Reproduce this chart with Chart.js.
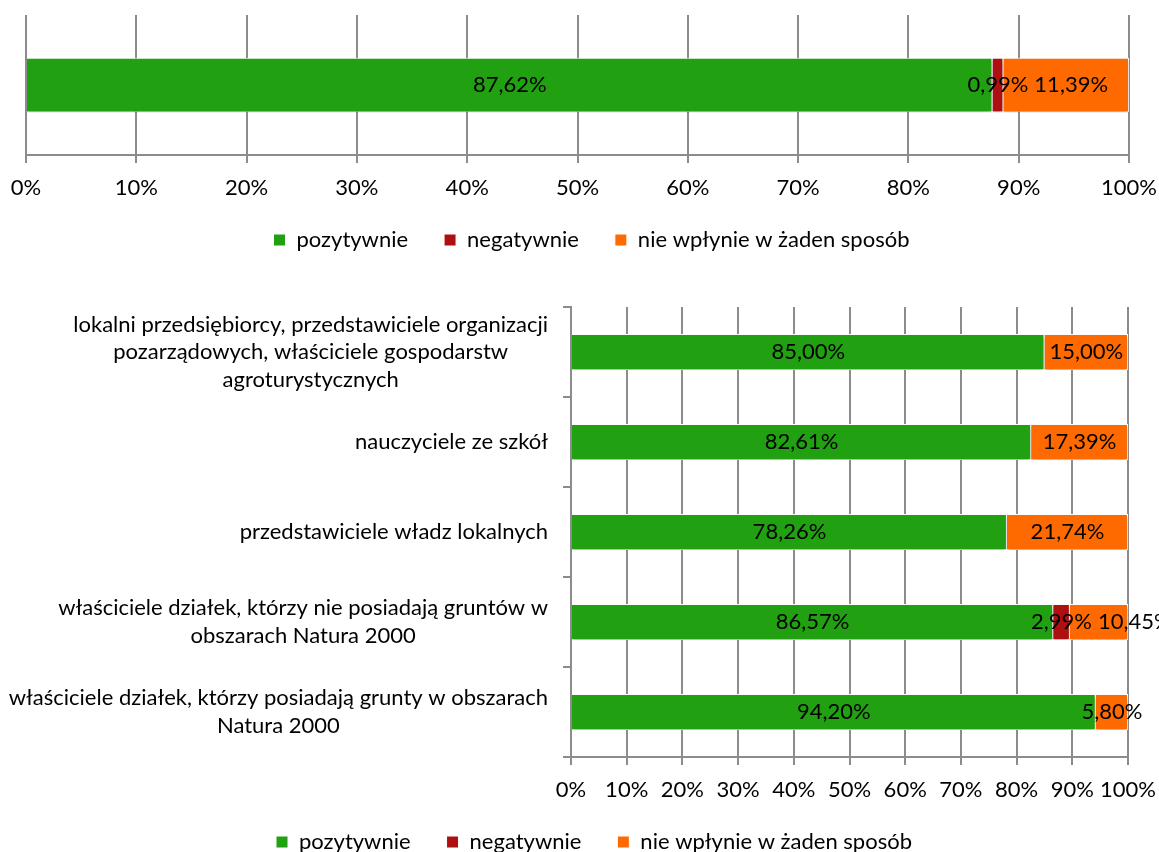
<!DOCTYPE html>
<html lang="pl">
<head>
<meta charset="utf-8">
<title>Wpływ na gminę</title>
<script src="https://cdn.jsdelivr.net/npm/chart.js@4.4.1/dist/chart.umd.min.js"></script>
<style>
  html, body { margin: 0; padding: 0; background: #fff; overflow: hidden; width: 1159px; height: 852px; }
  #topChart { position: absolute; left: 0; top: 0; }
  #bottomChart { position: absolute; left: 0; top: 280px; }
</style>
</head>
<body>
<canvas id="topChart" width="1159" height="290"></canvas>
<canvas id="bottomChart" width="1159" height="600"></canvas>
<script>
const seriesNames = ['pozytywnie', 'negatywnie', 'nie wpłynie w żaden sposób'];
const seriesColors = ['#21a011', '#ae0f10', '#ff6a00'];

// top chart - all respondents
const overallLabels = ['ogółem'];
const overallPositive = [87.62];
const overallNegative = [0.99];
const overallNone = [11.39];

// bottom chart - respondent groups
const groupLabels = [
  ['lokalni przedsiębiorcy, przedstawiciele organizacji', 'pozarządowych, właściciele gospodarstw', 'agroturystycznych'],
  'nauczyciele ze szkół',
  'przedstawiciele władz lokalnych',
  ['właściciele działek, którzy nie posiadają gruntów w', 'obszarach Natura 2000'],
  ['właściciele działek, którzy posiadają grunty w obszarach', 'Natura 2000']
];
const groupPositive = [85.00, 82.61, 78.26, 86.57, 94.20];
const groupNegative = [0, 0, 0, 2.99, 0];
const groupNone = [15.00, 17.39, 21.74, 10.45, 5.80];

const FONT = 'Lato';
const FONT_SIZE = 22;
const gridColor = '#8c8c8c';

Chart.defaults.font.family = FONT;
Chart.defaults.font.size = FONT_SIZE;
Chart.defaults.color = '#000';
Chart.defaults.animation = false;

const fmt = v => v.toFixed(2).replace('.', ',') + '%';

function makeSets(pos, neg, none, pct) {
  return [pos, neg, none].map((data, i) => ({
    label: seriesNames[i],
    data: data,
    backgroundColor: seriesColors[i],
    borderColor: '#fff',
    borderWidth: 1,
    barPercentage: pct,
    categoryPercentage: 1
  }));
}

// soft shadow under the bars + value labels centred in each segment
const barLabels = {
  id: 'barLabels',
  beforeDatasetsDraw(chart) {
    const ctx = chart.ctx;
    ctx.save();
    ctx.shadowColor = 'rgba(0,0,0,0.3)';
    ctx.shadowBlur = 4;
    ctx.shadowOffsetY = 3;
  },
  afterDatasetsDraw(chart) {
    const ctx = chart.ctx;
    ctx.restore();
    ctx.save();
    ctx.font = FONT_SIZE + 'px ' + FONT;
    ctx.fillStyle = '#000';
    ctx.textAlign = 'center';
    ctx.textBaseline = 'middle';
    chart.data.labels.forEach((_, j) => {
      let prevRight = -Infinity;
      chart.data.datasets.forEach((ds, i) => {
        const v = ds.data[j];
        if (!v) return;
        const bar = chart.getDatasetMeta(i).data[j];
        const text = fmt(v);
        const w = ctx.measureText(text).width;
        let cx = (bar.x + bar.base) / 2;
        // push a label right when it would run into the previous one
        if (cx - w / 2 < prevRight + 6) cx = prevRight + 6 + w / 2;
        ctx.fillText(text, cx, bar.y);
        prevRight = cx + w / 2;
      });
    });
    ctx.restore();
  }
};

// category labels: block right aligned to the axis, lines centred inside the block
const groupAxisLabels = {
  id: 'groupAxisLabels',
  afterDraw(chart) {
    const scale = chart.scales.y;
    const ctx = chart.ctx;
    const lineH = 27.5;
    const right = scale.right - 8 - 15;
    ctx.save();
    ctx.font = FONT_SIZE + 'px ' + FONT;
    ctx.fillStyle = '#000';
    ctx.textAlign = 'center';
    ctx.textBaseline = 'middle';
    groupLabels.forEach((label, i) => {
      const lines = [].concat(label);
      const w = Math.max(...lines.map(l => ctx.measureText(l).width));
      const cx = right - w / 2;
      const y0 = scale.getPixelForValue(i) - (lines.length - 1) * lineH / 2;
      lines.forEach((l, k) => ctx.fillText(l, cx, y0 + k * lineH));
    });
    ctx.restore();
  }
};

const legendMove = (dx, dy) => ({
  id: 'legendMove',
  afterLayout(chart) {
    chart.legend.left += dx;
    chart.legend.right += dx;
    chart.legend.top += dy;
    chart.legend.bottom += dy;
  }
});

const xScale = {
  stacked: true,
  min: 0,
  max: 100,
  ticks: { stepSize: 10, callback: v => v + '%', padding: 12, color: '#000', maxRotation: 0, minRotation: 0, autoSkip: false },
  grid: { color: gridColor, lineWidth: 2, tickLength: 8, tickColor: gridColor },
  border: { color: gridColor, width: 2 },
  afterFit: s => { s.height = 50; s.paddingLeft = 0; s.paddingRight = 0; }
};

const legendOpts = {
  position: 'bottom',
  labels: { boxWidth: 12, boxHeight: 12, padding: 36, color: '#000', font: { size: FONT_SIZE } }
};

new Chart(document.getElementById('topChart'), {
  type: 'bar',
  data: { labels: overallLabels, datasets: makeSets(overallPositive, overallNegative, overallNone, 0.39) },
  options: {
    indexAxis: 'y',
    responsive: false,
    layout: { padding: { top: 15, left: 26, right: 30, bottom: 17 } },
    scales: {
      x: xScale,
      y: { stacked: true, display: false }
    },
    plugins: { legend: legendOpts, tooltip: { enabled: false } }
  },
  plugins: [barLabels, legendMove(14, -12)]
});

new Chart(document.getElementById('bottomChart'), {
  type: 'bar',
  data: { labels: groupLabels, datasets: makeSets(groupPositive, groupNegative, groupNone, 0.4) },
  options: {
    indexAxis: 'y',
    responsive: false,
    layout: { padding: { top: 27, left: 0, right: 31, bottom: 5 } },
    scales: {
      x: Object.assign({}, xScale),
      y: {
        stacked: true,
        grid: { offset: true, drawOnChartArea: false, color: gridColor, lineWidth: 2, tickLength: 8 },
        border: { color: gridColor, width: 2 },
        ticks: { color: 'rgba(0,0,0,0)', padding: 15 },
        afterFit: s => { s.width = 571; s.paddingTop = 0; s.paddingBottom = 0; }
      }
    },
    plugins: { legend: legendOpts, tooltip: { enabled: false } }
  },
  plugins: [barLabels, groupAxisLabels, legendMove(30, -12)]
});
</script>
</body>
</html>
